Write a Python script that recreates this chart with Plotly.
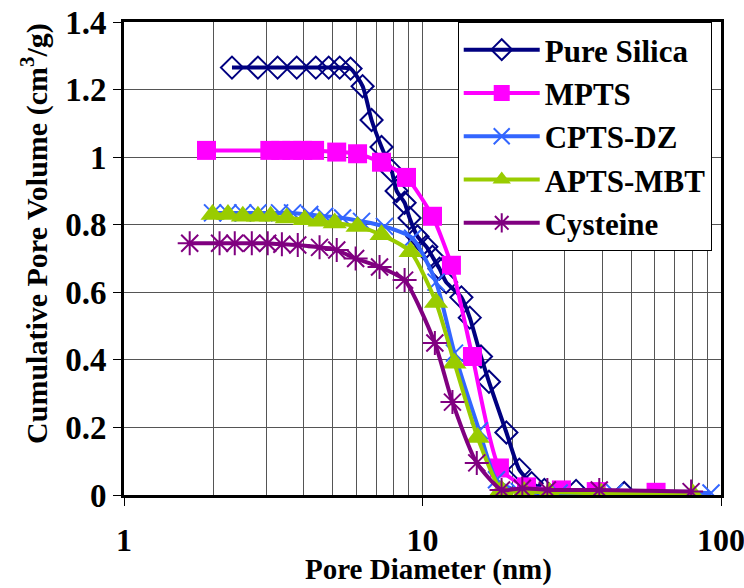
import plotly.graph_objects as go

# ---- data ----
silica_x = [2.30, 2.81, 3.27, 3.79, 4.39, 4.85, 5.28, 5.74, 6.30, 6.75, 7.29, 7.88, 8.19, 8.71,
            9.05, 9.62, 10.3, 10.8, 11.4, 12.0, 13.5, 14.4, 15.7, 16.7, 19.1, 21.1, 23.2, 25.6,
            32.7, 47.4]
silica_y = [1.265, 1.265, 1.265, 1.265, 1.265, 1.265, 1.265, 1.262, 1.21, 1.11, 1.03, 0.96, 0.90,
            0.865, 0.82, 0.765, 0.735, 0.705, 0.67, 0.63, 0.585, 0.525, 0.41, 0.335, 0.185, 0.075,
            0.035, 0.015, 0.012, 0.006]

mpts_x = [1.89, 3.08, 3.35, 3.65, 3.97, 4.35, 5.16, 6.06, 7.29, 8.84, 10.8, 12.5, 14.7, 18.1,
          22.3, 29.2, 38.2, 60.6]
mpts_y = [1.02, 1.02, 1.02, 1.02, 1.02, 1.02, 1.015, 1.01, 0.985, 0.94, 0.825, 0.68, 0.41, 0.08,
          0.024, 0.015, 0.01, 0.008]

cpts_x = [1.98, 2.23, 2.50, 2.81, 3.32, 3.67, 4.19, 4.70, 5.40, 6.25, 7.46, 9.26, 11.1, 12.8,
          15.5, 17.7, 21.1, 28.7, 43.9, 92.6]
cpts_y = [0.835, 0.835, 0.835, 0.835, 0.835, 0.835, 0.83, 0.825, 0.82, 0.81, 0.795, 0.76, 0.63,
          0.42, 0.19, 0.045, 0.01, 0.006, 0.008, 0.006]

apts_x = [1.98, 2.23, 2.50, 2.81, 3.10, 3.51, 4.03, 4.52, 5.08, 6.06, 7.29, 9.12, 11.1, 12.8,
          15.3, 18.4, 21.9, 26.6, 39.7, 80.5]
apts_y = [0.83, 0.83, 0.825, 0.825, 0.825, 0.82, 0.815, 0.81, 0.805, 0.795, 0.77, 0.72, 0.57,
          0.39, 0.17, 0.015, 0.01, 0.008, 0.005, 0.003]

cys_x = [1.66, 2.09, 2.35, 2.68, 3.03, 3.38, 3.82, 4.52, 5.16, 5.97, 7.18, 8.71, 11.0, 12.6,
         15.2, 18.4, 21.6, 26.2, 39.1, 79.4]
cys_y = [0.745, 0.745, 0.745, 0.745, 0.745, 0.742, 0.74, 0.733, 0.725, 0.70, 0.675, 0.636, 0.45,
         0.275, 0.095, 0.015, 0.02, 0.015, 0.015, 0.01]

names = ["Pure Silica", "MPTS", "CPTS-DZ", "APTS-MBT", "Cysteine"]
y_ticks = [0, 0.2, 0.4, 0.6, 0.8, 1, 1.2, 1.4]
x_ticks = [1, 10, 100]
x_title = "Pore Diameter (nm)"
y_title = "Cumulative Pore Volume (cm<sup>3</sup>/g)"

FONT = "Liberation Serif"

fig = go.Figure()

series = [
    (silica_x, silica_y, names[0], "#000080",
     dict(symbol="diamond-open", size=17, line=dict(width=2, color="#000080"))),
    (mpts_x, mpts_y, names[1], "#FF00FF",
     dict(symbol="square", size=19, color="#FF00FF", line=dict(width=0))),
    (cpts_x, cpts_y, names[2], "#3366FF",
     dict(symbol="x-thin-open", size=17, line=dict(width=2, color="#3366FF"))),
    (apts_x, apts_y, names[3], "#99CC00",
     dict(symbol="triangle-up", size=21, color="#99CC00", line=dict(width=0))),
    (cys_x, cys_y, names[4], "#800080",
     dict(symbol="asterisk-open", size=20, line=dict(width=2, color="#800080"))),
]

for i, (xs, ys, nm, col, mk) in enumerate(series):
    fig.add_trace(go.Scatter(
        x=xs, y=ys, name=nm, mode="lines+markers", legendgroup=f"g{i}",
        line=dict(color=col, width=4, shape="spline", smoothing=0.6),
        marker=mk,
    ))

fig.update_layout(
    width=744, height=588,
    margin=dict(l=124, r=23, t=22, b=93),
    paper_bgcolor="white", plot_bgcolor="white",
    font=dict(family=FONT, size=26, color="black", weight="bold"),
    showlegend=True,
    legend=dict(
        x=0.559, y=1.0, xanchor="left", yanchor="top",
        bgcolor="white", bordercolor="black", borderwidth=1,
        font=dict(family=FONT, size=31, color="black", weight="bold"),
        itemwidth=76, tracegroupgap=0,
    ),
    annotations=[
        dict(text=x_title, xref="paper", yref="paper", x=0.51, y=-0.197,
             xanchor="center", yanchor="bottom", showarrow=False,
             font=dict(family=FONT, size=29, color="black", weight="bold")),
        dict(text=y_title, xref="paper", yref="paper", x=-0.149, y=0.552,
             xanchor="center", yanchor="middle", showarrow=False, textangle=-90,
             font=dict(family=FONT, size=30, color="black", weight="bold")),
    ],
)

fig.update_xaxes(
    type="log", range=[0, 2], automargin=False,
    tickvals=x_ticks, ticktext=[str(v) for v in x_ticks],
    ticks="outside", ticklen=8, tickcolor="black", tickwidth=1,
    ticklabelstandoff=7, ticklabeloverflow="allow",
    showline=True, linecolor="black", linewidth=3, mirror=True,
    showgrid=True, gridcolor="#555555", gridwidth=1,
    minor=dict(dtick="D1", showgrid=True, gridcolor="#555555", gridwidth=1, ticks=""),
    tickfont=dict(family=FONT, size=32, color="black", weight="bold"),
    zeroline=False,
)

fig.update_yaxes(
    range=[0, 1.4], automargin=False,
    tickvals=y_ticks, ticktext=[f"{v:g}" for v in y_ticks],
    ticks="outside", ticklen=8, tickcolor="black", tickwidth=1,
    showline=True, linecolor="black", linewidth=3, mirror=True,
    showgrid=True, gridcolor="#555555", gridwidth=1,
    tickfont=dict(family=FONT, size=33, color="black", weight="bold"),
    zeroline=False,
)

fig.write_html("out.html")
